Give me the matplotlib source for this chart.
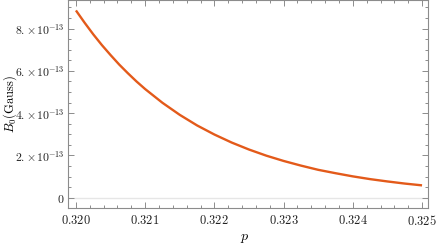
import numpy as np
import matplotlib
matplotlib.use("Agg")
import matplotlib.pyplot as plt
from matplotlib.ticker import FixedLocator, MultipleLocator

plt.rcParams["mathtext.fontset"] = "cm"
plt.rcParams["font.family"] = "DejaVu Serif"

# values (B0 in units of 1e-13 Gauss)
p_vals = [0.320000, 0.320125, 0.320250, 0.320375, 0.320500, 0.320625,
          0.320750, 0.320875, 0.321000, 0.321250, 0.321500,
          0.321750, 0.322000, 0.322250, 0.322500, 0.322750, 0.323000,
          0.323250, 0.323500, 0.323750, 0.324000, 0.324250, 0.324500,
          0.324750, 0.325000]
b0_e13 = [8.86, 8.28, 7.73, 7.22, 6.75, 6.30,
          5.89, 5.50, 5.14, 4.49, 3.92,
          3.42, 2.99, 2.61, 2.28, 1.99, 1.74,
          1.52, 1.32, 1.16, 1.01, 0.88, 0.77,
          0.67, 0.585]

x_ticks = [0.320, 0.321, 0.322, 0.323, 0.324, 0.325]
x_labels = ["0.320", "0.321", "0.322", "0.323", "0.324", "0.325"]
y_ticks = [0, 2e-13, 4e-13, 6e-13, 8e-13]
y_labels = ["$0$", r"$2.\!\times\!10^{-13}$", r"$4.\!\times\!10^{-13}$",
            r"$6.\!\times\!10^{-13}$", r"$8.\!\times\!10^{-13}$"]

fig = plt.figure(figsize=(4.36, 2.45), dpi=100)
ax = fig.add_axes([0.1567, 0.151, 0.8256, 0.847])

b0 = np.array(b0_e13) * 1e-13
ax.axhline(0, color="#e6e6e6", lw=1.0, zorder=1)
ax.plot(p_vals, b0, color="#e35a1a", lw=1.7, solid_joinstyle="round",
        solid_capstyle="butt", zorder=3)

ax.set_xlim(0.31989, 0.32509)
ax.set_ylim(-0.486e-13, 9.33e-13)

ax.xaxis.set_major_locator(FixedLocator(x_ticks))
ax.set_xticklabels(["$" + s + "$" for s in x_labels], fontsize=9)
ax.xaxis.set_minor_locator(MultipleLocator(0.0002))
ax.yaxis.set_major_locator(FixedLocator(y_ticks))
ax.set_yticklabels(y_labels, fontsize=8.5)
ax.yaxis.set_minor_locator(MultipleLocator(0.5e-13))

for s in ax.spines.values():
    s.set_color("#8c8c8c")
    s.set_linewidth(0.8)

ax.tick_params(which="both", direction="in", top=True, right=True,
               color="#8c8c8c", width=0.7, labelcolor="#222222")
ax.tick_params(which="major", length=4, pad=4)
ax.tick_params(axis="y", which="major", pad=2.5)
ax.tick_params(which="minor", length=2)

ax.set_xlabel("$p$", fontsize=10)
ax.xaxis.set_label_coords(0.49, -0.11)
ax.set_ylabel(r"$B_0(\mathrm{Gauss})$", fontsize=9)
ax.yaxis.set_label_coords(-0.137, 0.5)

fig.savefig("out.png", dpi=100)
plt.close(fig)
